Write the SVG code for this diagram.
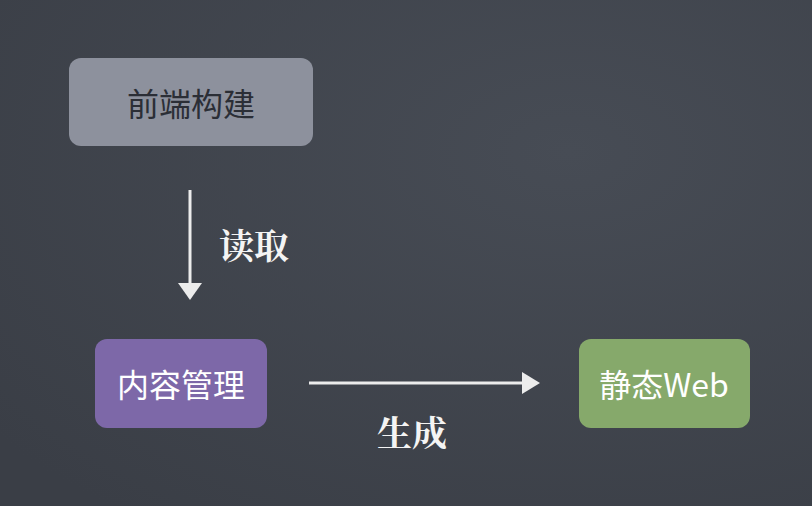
<svg xmlns="http://www.w3.org/2000/svg" width="812" height="506" viewBox="0 0 812 506">
<defs>
<style>
.box-text{font-family:"Noto Sans CJK SC","Noto Sans",sans-serif;font-size:32px;text-anchor:middle;dominant-baseline:central}
.lbl{font-family:"Noto Serif CJK SC","Noto Sans CJK SC",serif;font-size:35px;font-weight:bold;fill:#f4f4f4;text-anchor:middle;dominant-baseline:central}
.conn{stroke:#ececec;stroke-width:3;fill:none}
</style>
<radialGradient id="bg" cx="0.7" cy="0.3" r="0.9">
<stop offset="0" stop-color="#474c55"/>
<stop offset="1" stop-color="#3a3e46"/>
</radialGradient>
</defs>
<rect width="812" height="506" fill="url(#bg)"/>
<g id="node-frontend">
<rect x="69" y="58" width="244" height="88" rx="12" fill="#8d919d"/>
<text class="box-text" x="191" y="102" fill="#2b2e36">前端构建</text>
</g>
<g id="node-content">
<rect x="95" y="339" width="172" height="89" rx="12" fill="#7d68a8"/>
<text class="box-text" x="181" y="383" fill="#ffffff">内容管理</text>
</g>
<g id="node-web">
<rect x="579" y="339" width="171" height="89" rx="12" fill="#86a96b"/>
<text class="box-text" x="664" y="383" fill="#ffffff">静态Web</text>
</g>
<g id="connectors">
<line class="conn" x1="190" y1="190" x2="190" y2="286"/>
<path d="M178,283 L202,283 L190,300 Z" fill="#ececec"/>
<line class="conn" x1="309" y1="383" x2="524" y2="383"/>
<path d="M522,372 L540,383 L522,394 Z" fill="#ececec"/>
<text class="lbl" x="254" y="244">读取</text>
<text class="lbl" x="412" y="431">生成</text>
</g>
</svg>
